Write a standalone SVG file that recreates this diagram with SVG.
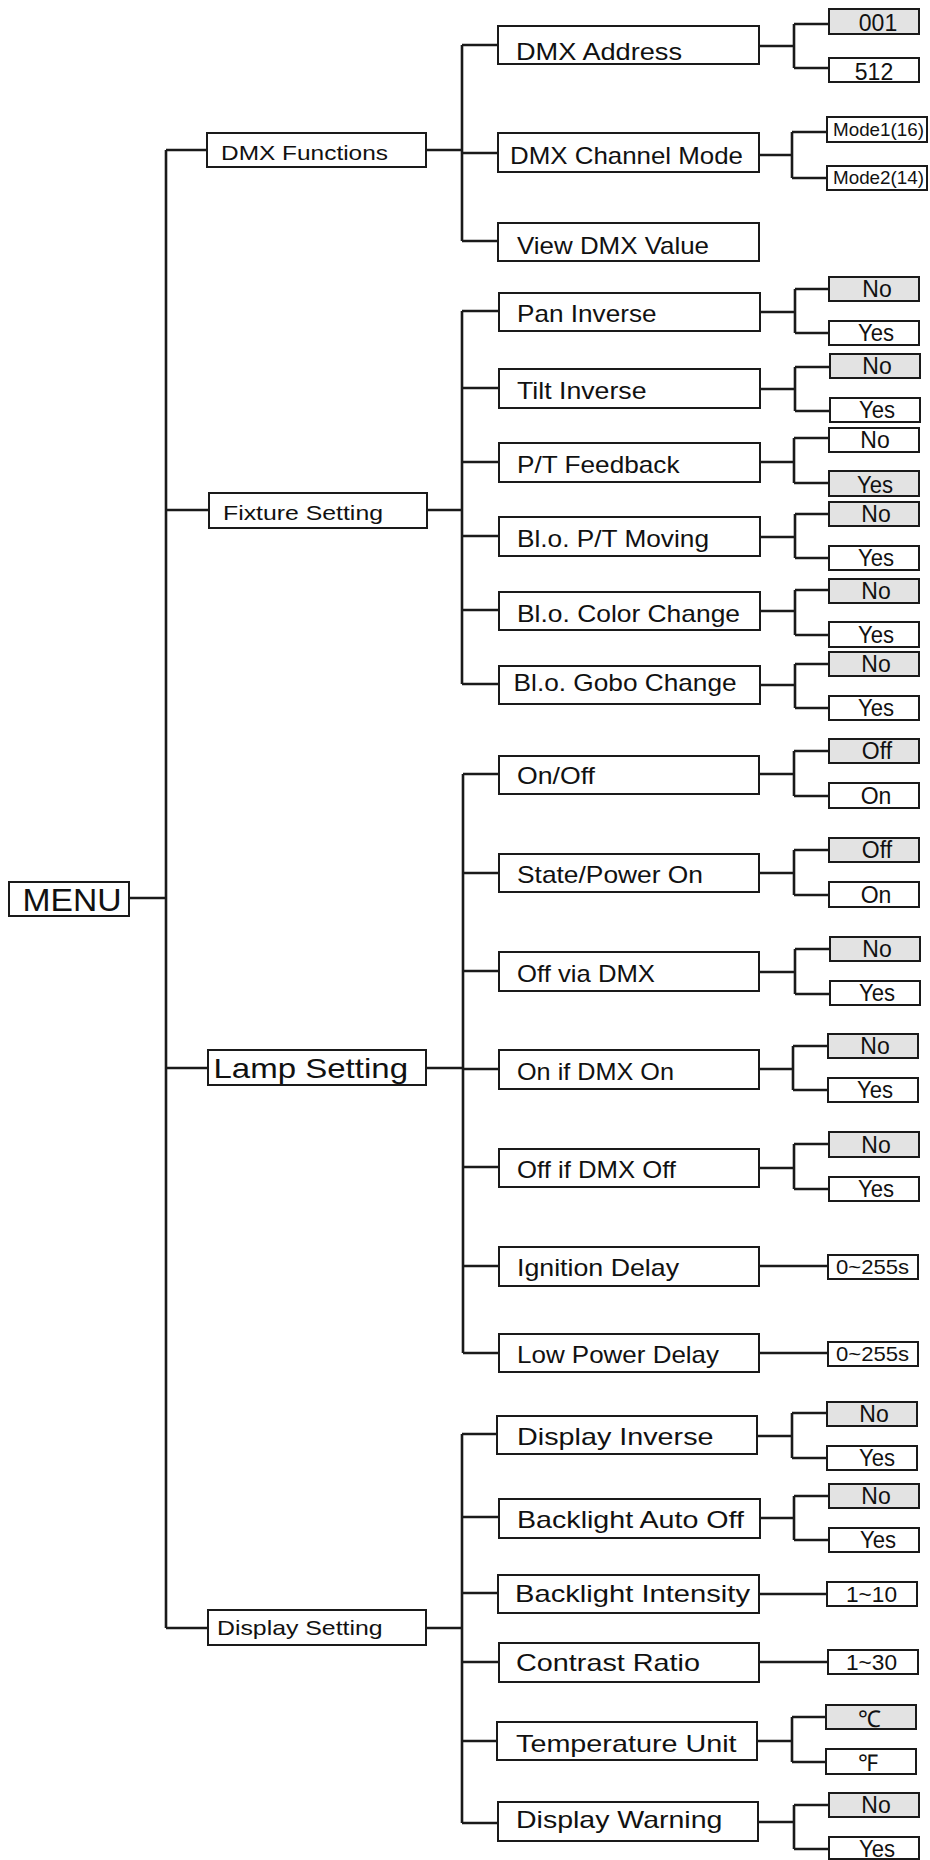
<svg xmlns="http://www.w3.org/2000/svg" width="930" height="1860" viewBox="0 0 930 1860">
<style>
.b{fill:#fff;stroke:#1a1a1a;stroke-width:2}
.g{fill:#e3e3e3;stroke:#1a1a1a;stroke-width:2}
.t{font-family:"Liberation Sans",Arial,sans-serif;fill:#111}
.l1{font-size:21px}
.l2{font-size:24px}
.lf{font-size:23px;text-anchor:middle}
.sm{font-size:19px}
#connectors path{fill:none;stroke:#1a1a1a;stroke-width:2.6}
</style>
<rect width="930" height="1860" fill="#fff"/>
<g id="connectors">
<path d="M129 898H166M166 150V1628M166 150H207M166 510H209M166 1068H208M166 1628H208"/>
<path d="M426 150H462M462 45V241M462 45H498M462 153H498M462 241H498"/>
<path d="M759 46H794M794 24V68M794 24H829M794 68H829"/>
<path d="M759 155H792M792 132V178M792 132H827M792 178H827"/>
<path d="M427 510H462M462 311V684M462 311H499M462 388H499M462 462H499M462 536H499M462 610H499M462 684H499"/>
<path d="M760 312H795M795 289V333M795 289H829M795 333H829"/>
<path d="M760 389H795M795 367V411M795 367H830M795 411H830"/>
<path d="M760 462H794M794 438V483M794 438H829M794 483H829"/>
<path d="M760 537H795M795 514V558M795 514H829M795 558H829"/>
<path d="M760 611H795M795 590V635M795 590H829M795 635H829"/>
<path d="M760 685H795M795 664V708M795 664H829M795 708H829"/>
<path d="M426 1068H463M463 774V1353M463 774H499M463 873H499M463 971H499M463 1069H499M463 1167H499M463 1266H499M463 1353H499"/>
<path d="M759 774H794M794 751V796M794 751H829M794 796H829"/>
<path d="M759 873H794M794 850V895M794 850H829M794 895H829"/>
<path d="M759 972H795M795 949V994M795 949H830M795 994H830"/>
<path d="M759 1069H793M793 1046V1090M793 1046H828M793 1090H828"/>
<path d="M759 1168H794M794 1144V1189M794 1144H829M794 1189H829"/>
<path d="M759 1266H828M759 1353H828"/>
<path d="M426 1628H462M462 1434V1823M462 1434H497M462 1517H499M462 1593H498M462 1662H499M462 1741H497M462 1823H498"/>
<path d="M757 1436H792M792 1413V1458M792 1413H827M792 1458H827"/>
<path d="M760 1518H794M794 1496V1540M794 1496H829M794 1540H829"/>
<path d="M759 1594H827M759 1662H828"/>
<path d="M757 1741H792M792 1717V1762M792 1717H826M792 1762H826"/>
<path d="M758 1822H794M794 1805V1849M794 1805H829M794 1849H829"/>
</g>
<g id="menu"><rect class="b" x="9" y="882" width="120" height="34"/><text class="t" x="22.5" y="910.5" font-size="31" textLength="99" lengthAdjust="spacingAndGlyphs">MENU</text></g>
<g id="dmx-functions"><rect class="b" x="207" y="133" width="219" height="34"/><text class="t l1" x="221" y="159.5" textLength="167" lengthAdjust="spacingAndGlyphs">DMX Functions</text></g>
<g id="fixture-setting"><rect class="b" x="209" y="493" width="218" height="35"/><text class="t l1" x="223" y="520" textLength="160" lengthAdjust="spacingAndGlyphs">Fixture Setting</text></g>
<g id="lamp-setting"><rect class="b" x="208" y="1050" width="218" height="35"/><text class="t" x="213.5" y="1078" font-size="28" textLength="194.5" lengthAdjust="spacingAndGlyphs">Lamp Setting</text></g>
<g id="display-setting"><rect class="b" x="208" y="1610" width="218" height="35"/><text class="t l1" x="217" y="1635" textLength="165.6" lengthAdjust="spacingAndGlyphs">Display Setting</text></g>

<g id="dmx-address"><rect class="b" x="498" y="26" width="261" height="38"/><text class="t l2" x="516" y="60" textLength="166" lengthAdjust="spacingAndGlyphs">DMX  Address</text></g>
<g id="dmx-address-001"><rect class="g" x="829" y="9" width="90" height="25"/><text class="t lf" x="878" y="31" font-size="24">001</text></g>
<g id="dmx-address-512"><rect class="b" x="829" y="58" width="90" height="24"/><text class="t lf" x="874" y="80" font-size="24">512</text></g>
<g id="dmx-channel-mode"><rect class="b" x="498" y="133" width="261" height="39"/><text class="t l2" x="510" y="163.5" textLength="233" lengthAdjust="spacingAndGlyphs">DMX Channel Mode</text></g>
<g id="mode1"><rect class="b" x="827" y="117" width="100" height="25"/><text class="t sm" x="833" y="136" textLength="91" lengthAdjust="spacingAndGlyphs">Mode1(16)</text></g>
<g id="mode2"><rect class="b" x="827" y="166" width="100" height="24"/><text class="t sm" x="833" y="184" textLength="91" lengthAdjust="spacingAndGlyphs">Mode2(14)</text></g>
<g id="view-dmx-value"><rect class="b" x="498" y="223" width="261" height="38"/><text class="t l2" x="517" y="254" textLength="192" lengthAdjust="spacingAndGlyphs">View DMX Value</text></g>

<g id="pan-inverse"><rect class="b" x="499" y="293" width="261" height="38"/><text class="t l2" x="517" y="321.7" textLength="139.5" lengthAdjust="spacingAndGlyphs">Pan Inverse</text></g>
<g id="pan-no"><rect class="g" x="829" y="277" width="90" height="24"/><text class="t lf" x="877" y="297">No</text></g>
<g id="pan-yes"><rect class="b" x="829" y="321" width="90" height="24"/><text class="t lf" x="876" y="341" textLength="36" lengthAdjust="spacingAndGlyphs">Yes</text></g>
<g id="tilt-inverse"><rect class="b" x="499" y="369" width="261" height="39"/><text class="t l2" x="517" y="399.3" textLength="129.5" lengthAdjust="spacingAndGlyphs">Tilt Inverse</text></g>
<g id="tilt-no"><rect class="g" x="830" y="354" width="90" height="24"/><text class="t lf" x="877" y="374">No</text></g>
<g id="tilt-yes"><rect class="b" x="830" y="398" width="90" height="24"/><text class="t lf" x="877" y="418" textLength="36" lengthAdjust="spacingAndGlyphs">Yes</text></g>
<g id="pt-feedback"><rect class="b" x="499" y="443" width="261" height="39"/><text class="t l2" x="517" y="473.3" textLength="162.5" lengthAdjust="spacingAndGlyphs">P/T Feedback</text></g>
<g id="ptf-no"><rect class="b" x="829" y="428" width="90" height="24"/><text class="t lf" x="875" y="448">No</text></g>
<g id="ptf-yes"><rect class="g" x="829" y="471" width="90" height="25"/><text class="t lf" x="875" y="493" textLength="36" lengthAdjust="spacingAndGlyphs">Yes</text></g>
<g id="blo-pt-moving"><rect class="b" x="499" y="517" width="261" height="39"/><text class="t l2" x="517" y="546.7" textLength="192" lengthAdjust="spacingAndGlyphs">Bl.o. P/T Moving</text></g>
<g id="ptm-no"><rect class="g" x="829" y="502" width="90" height="24"/><text class="t lf" x="876" y="522">No</text></g>
<g id="ptm-yes"><rect class="b" x="829" y="546" width="90" height="24"/><text class="t lf" x="876" y="566" textLength="36" lengthAdjust="spacingAndGlyphs">Yes</text></g>
<g id="blo-color-change"><rect class="b" x="499" y="592" width="261" height="38"/><text class="t l2" x="517" y="622.3" textLength="223" lengthAdjust="spacingAndGlyphs">Bl.o. Color Change</text></g>
<g id="cc-no"><rect class="g" x="829" y="579" width="90" height="24"/><text class="t lf" x="876" y="599">No</text></g>
<g id="cc-yes"><rect class="b" x="829" y="622" width="90" height="25"/><text class="t lf" x="876" y="643" textLength="36" lengthAdjust="spacingAndGlyphs">Yes</text></g>
<g id="blo-gobo-change"><rect class="b" x="499" y="666" width="261" height="38"/><text class="t l2" x="513.6" y="690.7" textLength="223" lengthAdjust="spacingAndGlyphs">Bl.o. Gobo Change</text></g>
<g id="gc-no"><rect class="g" x="829" y="652" width="90" height="24"/><text class="t lf" x="876" y="672">No</text></g>
<g id="gc-yes"><rect class="b" x="829" y="696" width="90" height="24"/><text class="t lf" x="876" y="716" textLength="36" lengthAdjust="spacingAndGlyphs">Yes</text></g>

<g id="on-off"><rect class="b" x="499" y="756" width="260" height="38"/><text class="t l2" x="517" y="784" textLength="78" lengthAdjust="spacingAndGlyphs">On/Off</text></g>
<g id="onoff-off"><rect class="g" x="829" y="739" width="90" height="24"/><text class="t lf" x="877" y="759">Off</text></g>
<g id="onoff-on"><rect class="b" x="829" y="783" width="90" height="25"/><text class="t lf" x="876" y="804">On</text></g>
<g id="state-power-on"><rect class="b" x="499" y="854" width="260" height="38"/><text class="t l2" x="517" y="883.3" textLength="186" lengthAdjust="spacingAndGlyphs">State/Power On</text></g>
<g id="spo-off"><rect class="g" x="829" y="838" width="90" height="24"/><text class="t lf" x="877" y="858">Off</text></g>
<g id="spo-on"><rect class="b" x="829" y="882" width="90" height="25"/><text class="t lf" x="876" y="903">On</text></g>
<g id="off-via-dmx"><rect class="b" x="499" y="952" width="260" height="39"/><text class="t l2" x="517" y="981.7" textLength="138" lengthAdjust="spacingAndGlyphs">Off via DMX</text></g>
<g id="ovd-no"><rect class="g" x="830" y="937" width="90" height="24"/><text class="t lf" x="877" y="957">No</text></g>
<g id="ovd-yes"><rect class="b" x="830" y="981" width="90" height="24"/><text class="t lf" x="877" y="1001" textLength="36" lengthAdjust="spacingAndGlyphs">Yes</text></g>
<g id="on-if-dmx-on"><rect class="b" x="499" y="1050" width="260" height="39"/><text class="t l2" x="517" y="1080" textLength="157" lengthAdjust="spacingAndGlyphs">On if DMX On</text></g>
<g id="oido-no"><rect class="g" x="828" y="1034" width="90" height="24"/><text class="t lf" x="875" y="1054">No</text></g>
<g id="oido-yes"><rect class="b" x="828" y="1078" width="90" height="24"/><text class="t lf" x="875" y="1098" textLength="36" lengthAdjust="spacingAndGlyphs">Yes</text></g>
<g id="off-if-dmx-off"><rect class="b" x="499" y="1149" width="260" height="38"/><text class="t l2" x="517" y="1177.7" textLength="159" lengthAdjust="spacingAndGlyphs">Off if DMX Off</text></g>
<g id="oido2-no"><rect class="g" x="829" y="1132" width="90" height="25"/><text class="t lf" x="876" y="1153">No</text></g>
<g id="oido2-yes"><rect class="b" x="829" y="1177" width="90" height="24"/><text class="t lf" x="876" y="1197" textLength="36" lengthAdjust="spacingAndGlyphs">Yes</text></g>
<g id="ignition-delay"><rect class="b" x="499" y="1247" width="260" height="39"/><text class="t l2" x="517" y="1276" textLength="162" lengthAdjust="spacingAndGlyphs">Ignition Delay</text></g>
<g id="ignition-range"><rect class="b" x="828" y="1255" width="90" height="24"/><text class="t" x="836" y="1274" font-size="21" textLength="73" lengthAdjust="spacingAndGlyphs">0~255s</text></g>
<g id="low-power-delay"><rect class="b" x="499" y="1334" width="260" height="38"/><text class="t l2" x="517" y="1362.7" textLength="202" lengthAdjust="spacingAndGlyphs">Low Power Delay</text></g>
<g id="lowpower-range"><rect class="b" x="828" y="1342" width="90" height="24"/><text class="t" x="836" y="1361" font-size="21" textLength="73" lengthAdjust="spacingAndGlyphs">0~255s</text></g>

<g id="display-inverse"><rect class="b" x="497" y="1416" width="260" height="38"/><text class="t l2" x="517" y="1445" textLength="196.5" lengthAdjust="spacingAndGlyphs">Display Inverse</text></g>
<g id="di-no"><rect class="g" x="827" y="1402" width="90" height="24"/><text class="t lf" x="874" y="1422">No</text></g>
<g id="di-yes"><rect class="b" x="827" y="1446" width="90" height="24"/><text class="t lf" x="877" y="1466" textLength="36" lengthAdjust="spacingAndGlyphs">Yes</text></g>
<g id="backlight-auto-off"><rect class="b" x="499" y="1499" width="261" height="39"/><text class="t l2" x="517" y="1528.3" textLength="227" lengthAdjust="spacingAndGlyphs">Backlight Auto Off</text></g>
<g id="bao-no"><rect class="g" x="829" y="1484" width="90" height="24"/><text class="t lf" x="876" y="1504">No</text></g>
<g id="bao-yes"><rect class="b" x="829" y="1528" width="90" height="24"/><text class="t lf" x="878" y="1548" textLength="36" lengthAdjust="spacingAndGlyphs">Yes</text></g>
<g id="backlight-intensity"><rect class="b" x="498" y="1575" width="261" height="38"/><text class="t l2" x="515" y="1602" textLength="235" lengthAdjust="spacingAndGlyphs">Backlight Intensity</text></g>
<g id="bi-range"><rect class="b" x="827" y="1582" width="90" height="24"/><text class="t" x="846" y="1602" font-size="22" textLength="51" lengthAdjust="spacingAndGlyphs">1~10</text></g>
<g id="contrast-ratio"><rect class="b" x="499" y="1643" width="260" height="39"/><text class="t l2" x="516" y="1670.7" textLength="184" lengthAdjust="spacingAndGlyphs">Contrast Ratio</text></g>
<g id="cr-range"><rect class="b" x="828" y="1650" width="90" height="24"/><text class="t" x="846" y="1670" font-size="22" textLength="51" lengthAdjust="spacingAndGlyphs">1~30</text></g>
<g id="temperature-unit"><rect class="b" x="497" y="1722" width="260" height="38"/><text class="t l2" x="516" y="1751.7" textLength="220.6" lengthAdjust="spacingAndGlyphs">Temperature Unit</text></g>
<g id="tu-c"><rect class="g" x="826" y="1705" width="90" height="24"/><text class="t lf" x="869" y="1727" font-family="'DejaVu Sans Condensed','DejaVu Sans',sans-serif">℃</text></g>
<g id="tu-f"><rect class="b" x="826" y="1749" width="90" height="25"/><text class="t lf" x="868" y="1771" font-family="'DejaVu Sans Condensed','DejaVu Sans',sans-serif">℉</text></g>
<g id="display-warning"><rect class="b" x="498" y="1802" width="260" height="39"/><text class="t l2" x="516" y="1828.3" textLength="206.4" lengthAdjust="spacingAndGlyphs">Display Warning</text></g>
<g id="dw-no"><rect class="g" x="829" y="1793" width="90" height="24"/><text class="t lf" x="876" y="1813">No</text></g>
<g id="dw-yes"><rect class="b" x="829" y="1837" width="90" height="22"/><text class="t lf" x="877" y="1857" textLength="36" lengthAdjust="spacingAndGlyphs">Yes</text></g>
</svg>
